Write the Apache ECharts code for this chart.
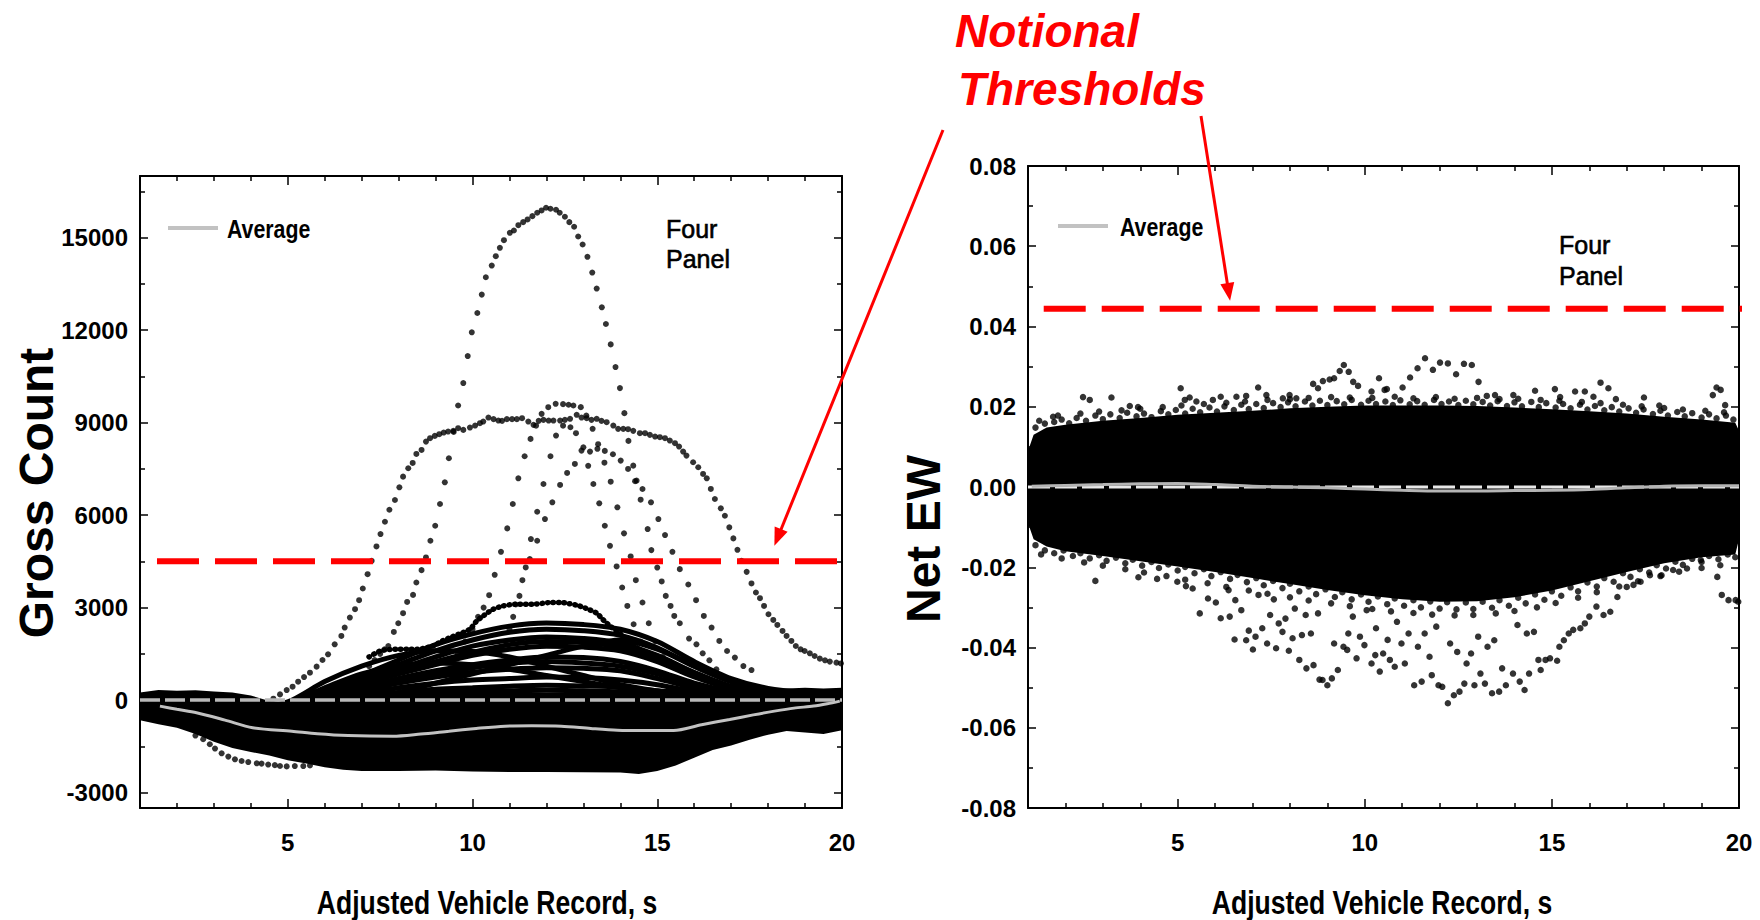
<!DOCTYPE html>
<html><head><meta charset="utf-8">
<script src="https://cdn.jsdelivr.net/npm/echarts@6/dist/echarts.min.js"></script>
<style>html,body{margin:0;padding:0;background:#fff}#c{width:1760px;height:920px}</style>
</head><body><div id="c"></div>
<script>
// ---------------- DATA ----------------
const xMajorTicks = [5, 10, 15, 20];
const xMinorTicks = [2, 3, 4, 6, 7, 8, 9, 11, 12, 13, 14, 16, 17, 18, 19];
const grossMajorTicks = [-3000, 0, 3000, 6000, 9000, 12000, 15000];
const grossMinorTicks = [-1500, 1500, 4500, 7500, 10500, 13500, 16500];

const grossThreshold = 4500;
const netThreshold = 0.0444;

// dense mass of records, left panel (envelopes)
const leftMassX  = [1,1.5,2,2.5,3,3.5,4,4.5,5,5.5,6,6.5,7,8,9,10,11,12,13,14,14.5,15,15.5,16,16.5,17,17.5,18,18.5,19,19.5,20];
const leftMassUp = [250,330,300,320,280,250,150,-30,-60,0,100,150,150,200,200,250,250,250,250,300,300,350,380,400,380,380,350,350,380,400,380,400];
const leftMassLo = [-650,-780,-900,-1100,-1350,-1550,-1680,-1800,-1950,-2060,-2180,-2260,-2300,-2300,-2280,-2320,-2330,-2330,-2340,-2350,-2400,-2300,-2120,-1870,-1620,-1470,-1290,-1120,-1000,-1050,-1100,-980];

// bundle of low records (gross count), sampled at clusterX
const clusterX = [4,5,6,7,8,9,10,11,12,13,14,15,16,17,18,19,20];
const cluster1 = [-300,-100,300,800,1300,1800,2150,2400,2500,2450,2300,1900,1250,700,380,250,200];
const cluster2 = [-300,-100,250,700,1150,1600,1950,2200,2300,2250,2100,1700,1100,600,330,220,150];
const cluster3 = [-300,-100,200,600,1000,1400,1750,1950,2050,2000,1850,1450,900,450,280,180,120];
const cluster14 = [-300,-150,200,550,900,1250,1550,1800,1900,1870,1720,1350,820,420,220,140,100];
const cluster4 = [-300,-150,150,500,850,1150,1450,1650,1750,1720,1600,1250,750,380,200,120,80];
const cluster5 = [-300,-150,100,400,700,950,1150,1300,1400,1380,1250,950,550,280,120,60,30];
const cluster13 = [-300,-200,100,350,600,850,1050,1200,1250,1200,1100,850,500,220,80,20,-20];
const cluster6 = [-300,-200,50,300,550,750,900,1000,1050,1030,950,700,400,180,60,20,0];
const cluster7 = [-300,-200,0,200,400,550,650,700,750,730,650,500,280,100,20,-30,-50];
const cluster8 = [-300,-250,-50,120,250,350,400,450,480,460,420,300,150,50,-30,-80,-100];
const cluster12 = [-300,-250,-100,50,150,220,280,300,320,300,270,200,100,20,-50,-100,-150];
const cluster9 = [-300,-60,600,1100,1450,1600,1580,1400,1100,800,500,300,150,50,0,-50,-80];
const cluster10 = [-300,-80,400,850,1100,1200,1150,1000,800,600,400,200,100,0,-50,-80,-100];
const cluster11 = [-300,-300,-200,0,250,550,850,1150,1450,1750,1950,1650,1100,620,330,200,150];

// individual high records (gross count)
const peakCurve = [[7.2,1100],[7.35,1300],[7.5,1500],[7.62,1650],[7.72,1755],[7.87,2210],[7.99,2493],[8.12,2818],[8.23,3185],[8.39,3413],[8.48,3815],[8.62,4215],[8.74,4628],[8.86,5168],[8.99,5655],[9.12,6360],[9.25,7065],[9.36,7845],[9.49,8700],[9.61,9555],[9.75,10283],[9.87,11160],[9.98,11930],[10.13,12557],[10.25,13153],[10.36,13715],[10.52,14095],[10.63,14398],[10.74,14670],[10.85,14918],[11.01,15158],[11.12,15233],[11.24,15405],[11.37,15503],[11.49,15590],[11.62,15698],[11.75,15808],[11.87,15883],[11.99,15970],[12.11,15938],[12.26,15905],[12.36,15808],[12.5,15678],[12.62,15503],[12.75,15353],[12.86,15038],[12.98,14778],[13.11,14378],[13.24,13868],[13.36,13348],[13.5,12740],[13.61,12200],[13.74,11538],[13.87,10803],[13.99,10120],[14.11,9308],[14.22,8408],[14.35,7605],[14.44,7118],[14.6,6848],[14.83,6415],[15.03,5873],[15.21,5353],[15.41,4810],[15.61,4248],[15.84,3750],[16.05,3240],[16.26,2730],[16.47,2353],[16.68,1918],[16.89,1593],[17.1,1378],[17.33,1105],[17.55,975]];
const plateauCurve = [[4.61,45],[4.79,185],[4.97,325],[5.13,435],[5.28,598],[5.44,748],[5.6,890],[5.78,1085],[5.94,1300],[6.09,1485],[6.27,1810],[6.45,2080],[6.54,2353],[6.68,2678],[6.82,2948],[6.93,3240],[7.03,3620],[7.16,4085],[7.27,4518],[7.4,4985],[7.51,5385],[7.63,5785],[7.75,6175],[7.9,6490],[8.02,6903],[8.12,7248],[8.26,7520],[8.38,7693],[8.48,7985],[8.62,8115],[8.74,8385],[8.85,8495],[8.98,8570],[9.1,8625],[9.22,8678],[9.34,8710],[9.48,8733],[9.61,8820],[9.75,8765],[9.93,8840],[10.07,8905],[10.2,8983],[10.29,9035],[10.43,9165],[10.57,9113],[10.7,9068],[10.8,9058],[10.93,9113],[11.07,9113],[11.2,9113],[11.34,9145],[11.51,9035],[11.65,8928],[11.79,9058],[11.92,9090],[12.06,9068],[12.19,9068],[12.37,9068],[12.5,9090],[12.64,9123],[12.82,9253],[12.95,9165],[13.09,9145],[13.22,9090],[13.36,9123],[13.49,9058],[13.63,9015],[13.81,8905],[13.94,8798],[14.08,8798],[14.21,8788],[14.35,8733],[14.53,8658],[14.67,8658],[14.8,8603],[14.94,8548],[15.07,8528],[15.21,8495],[15.34,8418],[15.48,8333],[15.59,8223],[15.7,8060],[15.79,7930],[15.97,7715],[16.11,7553],[16.24,7335],[16.34,7195],[16.45,6850],[16.56,6523],[16.72,6220],[16.83,5980],[16.95,5603],[17.06,5245],[17.17,4875],[17.28,4518],[17.42,4160],[17.55,3783],[17.67,3490],[17.78,3305],[17.89,3055],[18.01,2785],[18.14,2600],[18.25,2438],[18.39,2243],[18.5,2080],[18.63,1918],[18.75,1755],[18.88,1648],[18.99,1593],[19.13,1518],[19.26,1430],[19.4,1345],[19.54,1290],[19.67,1248],[19.85,1215],[19.97,1190]];
const curveA = [[9.6,1500],[9.8,1900],[10.0,2300],[10.15,2700],[10.3,3000],[10.45,3403],[10.6,4063],[10.77,4810],[10.94,5570],[11.09,6360],[11.24,7195],[11.41,7910],[11.57,8473],[11.72,8900],[11.87,9285],[12.05,9500],[12.25,9610],[12.45,9600],[12.6,9580],[12.73,9555],[12.93,9503],[13.08,9230],[13.25,8800],[13.4,8300],[13.57,7700],[13.74,7085],[13.92,6253],[14.1,5408],[14.28,4660],[14.42,3890],[14.6,3165],[14.77,2493],[14.95,1900],[15.15,1400]];
const curveB = [[11.0,2300],[11.17,3100],[11.35,3890],[11.55,4573],[11.75,5168],[11.96,5873],[12.16,6415],[12.37,6978],[12.56,7368],[12.77,7660],[12.95,8093],[13.18,8060],[13.38,8150],[13.58,8083],[13.8,7975],[14.01,7768],[14.21,7498],[14.4,7100],[14.55,6500],[14.74,5548],[14.84,4865],[15.0,4300],[15.12,3848],[15.23,3380],[15.36,3055],[15.46,2730],[15.61,2493],[15.86,1995],[16.06,1810],[16.23,1518],[16.41,1290],[16.6,1000]];
const curveE = [[10.9,1900],[11.1,2700],[11.27,3380],[11.44,4303],[11.58,5223],[11.75,6110],[11.92,7010],[12.11,7910],[12.26,8580],[12.45,8900],[12.65,8850],[12.8,8658],[13.0,8200],[13.13,7600],[13.27,7010],[13.43,6383],[13.58,5655],[13.72,5005],[13.9,4335],[14.05,3653],[14.19,3055],[14.36,2460],[14.55,1900]];
const curve3100 = [[7.2,1400],[7.5,1593],[7.75,1640],[7.95,1648],[8.25,1650],[8.53,1648],[8.75,1700],[8.93,1755],[9.15,1900],[9.39,2028],[9.65,2150],[9.93,2300],[10.1,2550],[10.29,2730],[10.56,2948],[10.83,3055],[11.0,3090],[11.2,3110],[11.45,3110],[11.65,3110],[11.9,3140],[12.1,3165],[12.41,3165],[12.6,3130],[12.82,3078],[13.0,3010],[13.13,2948],[13.36,2818],[13.54,2600],[13.72,2405],[13.9,2243],[14.1,2050],[14.3,1850],[14.5,1650]];
const lowCurve = [[2.5,-1150],[2.71,-1270],[2.89,-1433],[3.03,-1573],[3.21,-1725],[3.39,-1833],[3.57,-1920],[3.75,-1975],[3.93,-2010],[4.16,-2050],[4.29,-2060],[4.47,-2090],[4.65,-2110],[4.79,-2137],[4.97,-2150],[5.19,-2140],[5.42,-2140],[5.6,-2120]];
const grossAverage = [[1.54,-195],[2.0,-300],[2.53,-410],[3.3,-650],[4.05,-898],[5.11,-1008],[5.8,-1090],[6.63,-1148],[7.84,-1170],[8.6,-1100],[9.36,-1008],[10.1,-920],[10.88,-845],[11.6,-830],[12.4,-845],[13.2,-920],[13.92,-975],[14.7,-985],[15.44,-985],[16.2,-800],[16.96,-628],[17.6,-480],[18.17,-358],[18.7,-260],[19.23,-195],[19.6,-120],[19.94,-33]];

// dense mass, right panel (envelopes)
const rightMassX  = [1,1.15,1.5,2,3,4,5,6,7,8,9,10,11,12,13,14,15,16,17,18,19,19.9,20];
const rightMassUp = [0.009,0.013,0.0148,0.0155,0.0165,0.0172,0.018,0.0185,0.019,0.0196,0.02,0.0203,0.0203,0.0203,0.0202,0.0198,0.0194,0.0189,0.0183,0.0175,0.0168,0.016,0.014];
const rightMassLo = [-0.009,-0.013,-0.0148,-0.016,-0.0172,-0.0185,-0.0198,-0.0212,-0.0227,-0.0242,-0.0257,-0.027,-0.028,-0.0286,-0.0285,-0.0275,-0.0258,-0.0235,-0.0212,-0.019,-0.0175,-0.0168,-0.013];

// ragged speckle along the edges of the right-panel mass
const netTopSpeckle = [[1.2,0.0148],[1.45,0.0158],[1.7,0.0162],[1.9,0.0168],[2.1,0.0159],[2.3,0.0172],[2.55,0.0165],[2.8,0.0178],[3.0,0.0169],[3.2,0.0181],[3.45,0.0172],[3.65,0.0185],[3.9,0.0176],[4.1,0.0183],[4.3,0.0174],[4.55,0.0189],[4.75,0.0181],[4.95,0.0192],[5.2,0.0183],[5.4,0.0195],[5.6,0.0186],[5.85,0.0198],[6.05,0.0188],[6.25,0.0201],[6.5,0.0192],[6.7,0.0205],[6.9,0.0194],[7.1,0.0207],[7.3,0.0197],[7.55,0.0209],[7.75,0.0199],[7.95,0.0211],[8.15,0.0201],[8.4,0.0213],[8.6,0.0203],[8.8,0.0215],[9.0,0.0204],[9.25,0.0214],[9.45,0.0206],[9.65,0.0217],[9.9,0.0205],[10.1,0.0215],[10.3,0.0207],[10.55,0.0213],[10.75,0.0204],[10.95,0.0216],[11.2,0.0206],[11.4,0.0214],[11.6,0.0205],[11.85,0.0217],[12.05,0.0207],[12.25,0.0213],[12.5,0.0204],[12.7,0.0215],[12.9,0.0206],[13.15,0.0212],[13.35,0.0203],[13.55,0.0214],[13.8,0.0202],[14.0,0.0211],[14.2,0.0201],[14.45,0.0212],[14.65,0.0199],[14.85,0.0209],[15.1,0.0198],[15.3,0.0207],[15.5,0.0196],[15.75,0.0205],[15.95,0.0193],[16.15,0.0202],[16.4,0.0191],[16.6,0.0199],[16.8,0.0188],[17.05,0.0196],[17.25,0.0185],[17.45,0.0193],[17.7,0.0182],[17.9,0.019],[18.1,0.0178],[18.35,0.0187],[18.55,0.0176],[18.75,0.0184],[19.0,0.0173],[19.2,0.0181],[19.4,0.0171],[19.65,0.0178],[19.85,0.0168]];
const netTopSpeckle2 = [[1.3,0.0165],[1.8,0.0178],[2.4,0.0183],[2.9,0.0188],[3.5,0.0191],[4.0,0.0195],[4.6,0.0199],[5.1,0.0203],[5.7,0.0207],[6.3,0.021],[6.8,0.0213],[7.4,0.0217],[8.0,0.0219],[8.5,0.0222],[9.1,0.0224],[9.6,0.0223],[10.2,0.0222],[10.8,0.0225],[11.3,0.0221],[11.9,0.0224],[12.4,0.022],[13.0,0.0222],[13.6,0.0219],[14.1,0.022],[14.7,0.0217],[15.2,0.0215],[15.8,0.0212],[16.3,0.0209],[16.9,0.0205],[17.4,0.0201],[18.0,0.0197],[18.5,0.0193],[19.1,0.019],[19.6,0.0186]];
const netBottomSpeckle = [[1.2,-0.0145],[1.45,-0.0158],[1.7,-0.0165],[1.95,-0.0158],[2.2,-0.0172],[2.4,-0.0165],[2.65,-0.0178],[2.9,-0.017],[3.1,-0.0184],[3.35,-0.0176],[3.6,-0.019],[3.8,-0.0181],[4.05,-0.0196],[4.3,-0.0187],[4.5,-0.0202],[4.75,-0.0193],[5.0,-0.0208],[5.2,-0.0199],[5.45,-0.0215],[5.7,-0.0205],[5.9,-0.0222],[6.15,-0.0212],[6.4,-0.0229],[6.6,-0.0219],[6.85,-0.0237],[7.1,-0.0227],[7.3,-0.0245],[7.55,-0.0234],[7.8,-0.0252],[8.0,-0.0241],[8.25,-0.026],[8.5,-0.0248],[8.7,-0.0267],[8.95,-0.0255],[9.2,-0.0274],[9.4,-0.0262],[9.65,-0.028],[9.9,-0.0268],[10.1,-0.0286],[10.35,-0.0273],[10.6,-0.0292],[10.8,-0.0278],[11.05,-0.0296],[11.3,-0.0282],[11.5,-0.03],[11.75,-0.0285],[12.0,-0.0303],[12.2,-0.0287],[12.45,-0.0305],[12.7,-0.0288],[12.9,-0.0304],[13.15,-0.0286],[13.4,-0.0301],[13.6,-0.0282],[13.85,-0.0296],[14.1,-0.0276],[14.3,-0.029],[14.55,-0.0268],[14.8,-0.0281],[15.0,-0.026],[15.25,-0.0271],[15.5,-0.025],[15.7,-0.026],[15.95,-0.0238],[16.2,-0.0248],[16.4,-0.0227],[16.65,-0.0236],[16.9,-0.0215],[17.1,-0.0224],[17.35,-0.0205],[17.6,-0.0213],[17.8,-0.0195],[18.05,-0.0203],[18.3,-0.0186],[18.5,-0.0194],[18.75,-0.0179],[19.0,-0.0187],[19.2,-0.0172],[19.45,-0.018],[19.7,-0.0168],[19.9,-0.0175]];
const netBottomSpeckle2 = [[1.35,-0.0168],[1.9,-0.0178],[2.5,-0.0188],[3.0,-0.0196],[3.6,-0.0205],[4.1,-0.0213],[4.7,-0.0222],[5.2,-0.0231],[5.8,-0.024],[6.3,-0.0249],[6.9,-0.0258],[7.4,-0.0266],[8.0,-0.0275],[8.5,-0.0283],[9.1,-0.029],[9.6,-0.0297],[10.2,-0.0304],[10.7,-0.031],[11.3,-0.0314],[11.8,-0.0318],[12.4,-0.032],[12.9,-0.0319],[13.5,-0.0315],[14.0,-0.0309],[14.6,-0.03],[15.1,-0.0289],[15.7,-0.0276],[16.2,-0.0262],[16.8,-0.0248],[17.3,-0.0235],[17.9,-0.0222],[18.4,-0.0211],[19.0,-0.0202],[19.5,-0.0195]];

// isolated points, right panel
const netHighDots = [[1.67,0.0175],[2.47,0.0224],[2.65,0.0217],[3.23,0.0223],[3.72,0.0202],[3.94,0.0199],[5.08,0.0246],[5.19,0.0217],[5.32,0.0223],[5.50,0.0213],[5.94,0.0217],[6.15,0.0225],[6.57,0.0225],[6.83,0.0227],[7.15,0.0248],[7.37,0.0229],[7.81,0.0221],[7.99,0.0229],[8.17,0.0221],[8.62,0.0257],[8.75,0.0246],[8.88,0.0264],[9.06,0.0268],[9.18,0.0271],[9.33,0.0289],[9.44,0.0304],[9.57,0.0287],[9.69,0.0262],[9.82,0.0252],[10.18,0.0238],[10.38,0.0271],[10.53,0.0242],[10.59,0.0244],[11.01,0.0248],[11.21,0.0273],[11.41,0.0296],[11.61,0.0321],[11.82,0.0292],[12.01,0.0310],[12.22,0.0308],[12.44,0.0281],[12.65,0.0307],[12.86,0.0304],[13.04,0.0262],[13.26,0.0227],[13.48,0.0229],[13.97,0.0229],[14.55,0.0240],[15.08,0.0244],[15.22,0.0224],[15.62,0.0238],[15.88,0.0238],[16.11,0.0225],[16.30,0.0260],[16.51,0.0246],[16.71,0.0219],[17.46,0.0223],[17.87,0.0203],[19.30,0.0229],[19.40,0.0248],[19.51,0.0242],[19.63,0.0204]];
const netLowDots = [[2.80,-0.0234],[3.95,-0.0225],[4.45,-0.0229],[4.99,-0.0236],[5.22,-0.0247],[5.40,-0.0253],[5.59,-0.0315],[5.81,-0.0278],[6.02,-0.0288],[6.15,-0.0327],[6.36,-0.0257],[6.39,-0.0323],[6.52,-0.0380],[6.54,-0.0282],[6.70,-0.0307],[6.83,-0.0382],[6.90,-0.0358],[7.01,-0.0405],[7.08,-0.0373],[7.16,-0.0269],[7.26,-0.0352],[7.39,-0.0390],[7.47,-0.0319],[7.57,-0.0280],[7.63,-0.0402],[7.70,-0.0340],[7.80,-0.0361],[7.88,-0.0328],[7.97,-0.0408],[8.07,-0.0377],[8.13,-0.0303],[8.25,-0.0431],[8.32,-0.0369],[8.42,-0.0319],[8.44,-0.0452],[8.56,-0.0365],[8.63,-0.0444],[8.75,-0.0315],[8.79,-0.0480],[8.87,-0.0481],[9.00,-0.0494],[9.12,-0.0477],[9.18,-0.0390],[9.28,-0.0456],[9.43,-0.0398],[9.53,-0.0406],[9.56,-0.0365],[9.68,-0.0323],[9.78,-0.0427],[9.87,-0.0373],[9.99,-0.0394],[10.05,-0.0307],[10.18,-0.0440],[10.28,-0.0419],[10.30,-0.0352],[10.40,-0.0460],[10.49,-0.0415],[10.61,-0.0381],[10.67,-0.0431],[10.80,-0.0448],[10.86,-0.0336],[10.98,-0.0390],[11.07,-0.0440],[11.17,-0.0365],[11.32,-0.0494],[11.42,-0.0398],[11.52,-0.0485],[11.60,-0.0365],[11.73,-0.0423],[11.79,-0.0469],[11.91,-0.0348],[11.97,-0.0494],[12.07,-0.0498],[12.22,-0.0539],[12.28,-0.0390],[12.38,-0.0519],[12.47,-0.0411],[12.53,-0.0510],[12.66,-0.0490],[12.72,-0.0440],[12.84,-0.0415],[12.93,-0.0494],[13.03,-0.0373],[13.09,-0.0465],[13.21,-0.0490],[13.28,-0.0398],[13.40,-0.0514],[13.46,-0.0382],[13.59,-0.0510],[13.67,-0.0452],[13.77,-0.0494],[13.96,-0.0465],[14.08,-0.0344],[14.14,-0.0485],[14.27,-0.0506],[14.33,-0.0365],[14.39,-0.0465],[14.52,-0.0361],[14.64,-0.0431],[14.70,-0.0456],[14.83,-0.0431],[14.95,-0.0427],[15.14,-0.0433],[15.20,-0.0398],[15.32,-0.0382],[15.45,-0.0365],[15.57,-0.0356],[15.76,-0.0352],[15.88,-0.0340],[16.00,-0.0323],[16.19,-0.0298],[16.38,-0.0319],[16.56,-0.0311],[16.75,-0.0274],[17.00,-0.0249],[17.18,-0.0244],[17.37,-0.0236],[17.62,-0.0220],[17.93,-0.0220],[18.24,-0.0207],[18.61,-0.0203],[18.98,-0.0182],[19.42,-0.0224],[19.54,-0.0269],[19.72,-0.0282],[19.91,-0.0282],[19.98,-0.0286]];
const netAverage = [[1.1,0.0002],[2,0.0004],[3,0.0006],[4,0.0008],[5,0.0009],[6,0.0006],[7,0.0002],[8,0],[9,-0.0002],[10,-0.0005],[11,-0.0008],[12,-0.001],[13,-0.001],[14,-0.0009],[15,-0.0008],[16,-0.0006],[17,-0.0002],[18,0.0002],[19,0.0003],[20,0.0003]];

const leftArrowTip = [18.17, 5005];
const rightArrowTip = [6.4, 0.0464];

// ---------------- CHART ----------------
const SANS = '"Liberation Sans",Arial,Helvetica,sans-serif';
const BLACK = '#000';
const RED = '#ff0000';
const AVG_GREY = '#c2c2c2';

const chart = echarts.init(document.getElementById('c'), null, {renderer: 'svg'});

const tickFont = {color: BLACK, fontFamily: SANS, fontWeight: 'bold', fontSize: 24};

function xAx(g, pos, vals, len, line, label) {
  return {
    type: 'value', gridIndex: g, position: pos, min: 1, max: 20,
    axisLine: {show: line, onZero: false, lineStyle: {color: BLACK, width: 2}},
    axisTick: {show: true, inside: true, length: len, customValues: vals, lineStyle: {color: BLACK, width: 1.5}},
    axisLabel: Object.assign({show: label, customValues: vals, margin: 22}, tickFont),
    splitLine: {show: false}
  };
}
function yAxGross(pos, vals, len, line, label) {
  return {
    type: 'value', gridIndex: 0, position: pos, min: -3500, max: 17000,
    axisLine: {show: line, onZero: false, lineStyle: {color: BLACK, width: 2}},
    axisTick: {show: true, inside: true, length: len, customValues: vals, lineStyle: {color: BLACK, width: 1.5}},
    axisLabel: Object.assign({show: label, customValues: vals, margin: 12, formatter: v => String(v)}, tickFont),
    splitLine: {show: false}
  };
}
function yAxNet(pos, label) {
  return {
    type: 'value', gridIndex: 1, position: pos, min: -0.08, max: 0.08, interval: 0.02,
    axisLine: {show: true, onZero: false, lineStyle: {color: BLACK, width: 2}},
    axisTick: {show: true, inside: true, length: 8, lineStyle: {color: BLACK, width: 1.5}},
    minorTick: {show: true, splitNumber: 2, length: 5, lineStyle: {color: BLACK, width: 1.5}},
    axisLabel: Object.assign({show: label, margin: 12,
      formatter: v => Math.abs(v) < 1e-9 ? '0.00' : v.toFixed(2)}, tickFont),
    splitLine: {show: false}, minorSplitLine: {show: false}
  };
}

function dots(data, xi, yi, size) {
  return {type: 'scatter', xAxisIndex: xi, yAxisIndex: yi, data: data, symbol: 'circle', symbolSize: size || 5,
    itemStyle: {color: BLACK}, silent: true, z: 3};
}
function band(xs, up, lo, xi, yi) {
  return {
    type: 'custom', xAxisIndex: xi, yAxisIndex: yi, data: [[xs[0], up[0]]], silent: true, z: 1,
    renderItem: function (p, api) {
      const pts = [];
      for (let i = 0; i < xs.length; i++) pts.push(api.coord([xs[i], up[i]]));
      for (let i = xs.length - 1; i >= 0; i--) pts.push(api.coord([xs[i], lo[i]]));
      return {type: 'polygon', shape: {points: pts}, style: {fill: BLACK}};
    }
  };
}

const series = [];
series.push(band(leftMassX, leftMassUp, leftMassLo, 0, 0));
[cluster1, cluster2, cluster3, cluster14, cluster4, cluster5, cluster13, cluster6, cluster7, cluster8, cluster12, cluster9, cluster10, cluster11].forEach(vals => {
  series.push({type: 'line', xAxisIndex: 0, yAxisIndex: 0, data: clusterX.map((x, i) => [x, vals[i]]),
    showSymbol: false, smooth: 0.3, lineStyle: {color: BLACK, width: 5}, silent: true, z: 2});
});
series.push({type: 'line', xAxisIndex: 0, yAxisIndex: 0, data: curve3100, showSymbol: false, smooth: 0.3,
  lineStyle: {color: BLACK, width: 5.5, type: [0.5, 5], cap: 'round'}, silent: true, z: 3});
[peakCurve, plateauCurve, curveA, curveB, curveE, lowCurve].forEach(d => series.push(dots(d, 0, 0, 6)));
series.push({type: 'line', xAxisIndex: 0, yAxisIndex: 0, data: [[1, 0], [20, 0]], showSymbol: false,
  lineStyle: {color: '#b8b8b8', width: 3.5, type: [20, 5]}, silent: true, z: 5});
series.push({type: 'line', name: 'Average', xAxisIndex: 0, yAxisIndex: 0, data: grossAverage, showSymbol: false, smooth: 0.3,
  color: AVG_GREY, lineStyle: {color: AVG_GREY, width: 3}, silent: true, z: 6});
series.push({type: 'line', xAxisIndex: 0, yAxisIndex: 0, data: [[1.46, grossThreshold], [20, grossThreshold]], showSymbol: false,
  lineStyle: {color: RED, width: 6, type: [42, 16]}, silent: true, z: 7});

series.push(band(rightMassX, rightMassUp, rightMassLo, 4, 4));
[netTopSpeckle, netTopSpeckle2, netBottomSpeckle, netBottomSpeckle2, netHighDots, netLowDots].forEach(d => series.push(dots(d, 4, 4, 6.5)));
series.push({type: 'line', xAxisIndex: 4, yAxisIndex: 4, data: [[1, 0], [20, 0]], showSymbol: false,
  lineStyle: {color: '#e8e8e8', width: 3, type: [22, 5]}, silent: true, z: 5});
series.push({type: 'line', name: 'Average', xAxisIndex: 4, yAxisIndex: 4, data: netAverage, showSymbol: false, smooth: 0.3,
  color: '#b4b4b4', lineStyle: {color: '#b4b4b4', width: 3}, silent: true, z: 6});
series.push({type: 'line', xAxisIndex: 4, yAxisIndex: 4, data: [[1.42, netThreshold], [20.32, netThreshold]], showSymbol: false,
  clip: false, lineStyle: {color: RED, width: 6, type: [42, 16]}, silent: true, z: 7});

const option = {
  backgroundColor: '#fff',
  animation: false,
  grid: [
    {left: 140, top: 176, width: 702, height: 632, containLabel: false},
    {left: 1028, top: 166, width: 711, height: 642, containLabel: false}
  ],
  xAxis: [
    xAx(0, 'bottom', xMajorTicks, 9, true, true),
    xAx(0, 'bottom', xMinorTicks, 5, false, false),
    xAx(0, 'top', xMajorTicks, 9, true, false),
    xAx(0, 'top', xMinorTicks, 5, false, false),
    xAx(1, 'bottom', xMajorTicks, 9, true, true),
    xAx(1, 'bottom', xMinorTicks, 5, false, false),
    xAx(1, 'top', xMajorTicks, 9, true, false),
    xAx(1, 'top', xMinorTicks, 5, false, false)
  ],
  yAxis: [
    yAxGross('left', grossMajorTicks, 8, true, true),
    yAxGross('left', grossMinorTicks, 5, false, false),
    yAxGross('right', grossMajorTicks, 8, true, false),
    yAxGross('right', grossMinorTicks, 5, false, false),
    yAxNet('left', true),
    yAxNet('right', false)
  ],
  series: series
};
chart.setOption(option);

function arrow(id, tail, tip) {
  const dx = tip[0] - tail[0], dy = tip[1] - tail[1], L = Math.hypot(dx, dy), ux = dx / L, uy = dy / L;
  const hl = 18, hw = 7, bx = tip[0] - ux * hl, by = tip[1] - uy * hl;
  return [
    {type: 'line', id: id + 'l', z: 100, shape: {x1: tail[0], y1: tail[1], x2: bx + ux * 2, y2: by + uy * 2}, style: {stroke: RED, lineWidth: 3}},
    {type: 'polygon', id: id + 'h', z: 100, shape: {points: [[tip[0], tip[1]], [bx - uy * hw, by + ux * hw], [bx + uy * hw, by - ux * hw]]}, style: {fill: RED}}
  ];
}
const tipL = chart.convertToPixel({xAxisIndex: 0, yAxisIndex: 0}, leftArrowTip);
const tipR = chart.convertToPixel({xAxisIndex: 4, yAxisIndex: 4}, rightArrowTip);

function txt(id, text, x, y, font, fill, align, extra) {
  const st = {text: text, font: font, fill: fill || BLACK, align: align || 'left', verticalAlign: 'middle'};
  if (extra && extra.style) Object.assign(st, extra.style);
  const el = {type: 'text', id: id, x: x, y: y, z: 100, style: st};
  if (extra) { Object.keys(extra).forEach(k => { if (k !== 'style') el[k] = extra[k]; }); }
  return el;
}
function legendLine(id, x1, x2, y, color) {
  return {type: 'line', id: id, z: 100, shape: {x1: x1, y1: y, x2: x2, y2: y}, style: {stroke: color, lineWidth: 4}};
}
const titleFont = 'bold 48px ' + SANS;
const axisTitleFont = 'bold 34px ' + SANS;
const legendFont = 'bold 26px ' + SANS;
const panelFont = '25px ' + SANS;
const notionalFont = 'italic bold 46px ' + SANS;
const panelExtra = {style: {stroke: BLACK, lineWidth: 0.6}};

const graphics = [
  txt('gy1', 'Gross Count', 36, 493, titleFont, BLACK, 'center', {rotation: Math.PI / 2}),
  txt('gy2', 'Net EW', 923, 539, titleFont, BLACK, 'center', {rotation: Math.PI / 2}),
  txt('gx1', 'Adjusted Vehicle Record, s', 487, 902, axisTitleFont, BLACK, 'center', {scaleX: 0.78}),
  txt('gx2', 'Adjusted Vehicle Record, s', 1382, 902, axisTitleFont, BLACK, 'center', {scaleX: 0.78}),
  legendLine('lg1', 168, 218, 228, AVG_GREY),
  txt('lt1', 'Average', 227, 229, legendFont, BLACK, 'left', {scaleX: 0.82}),
  legendLine('lg2', 1058, 1108, 226, AVG_GREY),
  txt('lt2', 'Average', 1120, 227, legendFont, BLACK, 'left', {scaleX: 0.82}),
  txt('fp1a', 'Four', 666, 229, panelFont, BLACK, 'left', panelExtra),
  txt('fp1b', 'Panel', 666, 259, panelFont, BLACK, 'left', panelExtra),
  txt('fp2a', 'Four', 1559, 245, panelFont, BLACK, 'left', panelExtra),
  txt('fp2b', 'Panel', 1559, 276, panelFont, BLACK, 'left', panelExtra),
  txt('n1', 'Notional', 955, 31, notionalFont, RED, 'left'),
  txt('n2', 'Thresholds', 958, 89, notionalFont, RED, 'left')
].concat(arrow('a1', [943, 130], tipL), arrow('a2', [1201, 116], tipR));

chart.setOption({graphic: graphics});
</script></body></html>
